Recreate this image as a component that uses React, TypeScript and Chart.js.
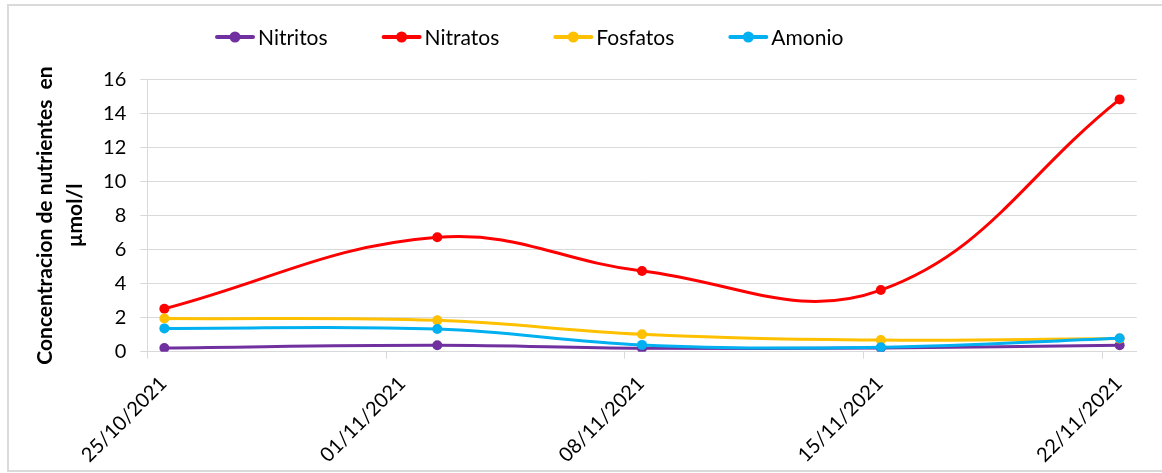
import React, { useEffect, useRef } from 'react';
import { Chart, registerables } from 'chart.js';

Chart.register(...registerables);

// ---- Data ----
const sampleDates = ['25/10/2021', '02/11/2021', '08/11/2021', '15/11/2021', '22/11/2021'];
const tickDates = ['25/10/2021', '01/11/2021', '08/11/2021', '15/11/2021', '22/11/2021'];
const seriesNames = ['Nitritos', 'Nitratos', 'Fosfatos', 'Amonio'];
const seriesColors = ['#7030A0', '#FF0000', '#FFC000', '#00B0F0'];
const nitritos = [0.22, 0.38, 0.2, 0.22, 0.38];
const nitratos = [2.52, 6.72, 4.74, 3.62, 14.82];
const fosfatos = [1.95, 1.84, 1.02, 0.68, 0.77];
const amonio = [1.37, 1.33, 0.4, 0.26, 0.79];
const yTitle = ['Concentracion de nutrientes  en', 'µmol/l'];
const yMin = 0;
const yMax = 16;
const yStep = 2;

// ---- Helpers ----
const DAY = 86400000;
function parseDate(s: string): number {
  const [d, m, y] = s.split('/').map(Number);
  return Date.UTC(y, m - 1, d);
}
const baseTime = parseDate(tickDates[0]);
const dayIndex = (s: string) => Math.round((parseDate(s) - baseTime) / DAY);
function formatDay(day: number): string {
  const dt = new Date(baseTime + Math.round(day) * DAY);
  const dd = String(dt.getUTCDate()).padStart(2, '0');
  const mm = String(dt.getUTCMonth() + 1).padStart(2, '0');
  return `${dd}/${mm}/${dt.getUTCFullYear()}`;
}
// Excel date axis: each day is a slot, points sit in the middle of their day
const xValues = sampleDates.map((s) => dayIndex(s) + 0.5);
const tickValues = tickDates.map(dayIndex);
const xMin = 0;
const xMax = dayIndex(tickDates[tickDates.length - 1]) + 1;

const allSeries = [nitritos, nitratos, fosfatos, amonio];

const FONT = 'Lato, "Liberation Sans", sans-serif';
const GRID = '#d9d9d9';

const lineLegend = {
  id: 'lineLegend',
  afterDraw(chart: any) {
    const ctx = chart.ctx as CanvasRenderingContext2D;
    const y = 37;
    let x = 215;
    ctx.save();
    ctx.font = `21px ${FONT}`;
    ctx.textBaseline = 'middle';
    ctx.textAlign = 'left';
    chart.data.datasets.forEach((ds: any) => {
      ctx.strokeStyle = ds.borderColor;
      ctx.lineWidth = 4;
      ctx.lineCap = 'round';
      ctx.beginPath();
      ctx.moveTo(x + 2, y);
      ctx.lineTo(x + 38, y);
      ctx.stroke();
      ctx.fillStyle = ds.borderColor;
      ctx.beginPath();
      ctx.arc(x + 20, y, 5.5, 0, Math.PI * 2);
      ctx.fill();
      ctx.fillStyle = '#000';
      ctx.fillText(ds.label, x + 43, y + 1);
      x += 43 + ctx.measureText(ds.label).width + 54;
    });
    ctx.restore();
  },
};

export default function App() {
  const canvasRef = useRef<HTMLCanvasElement | null>(null);

  useEffect(() => {
    if (!canvasRef.current) return;
    Chart.defaults.font.family = FONT;
    const chart = new Chart(canvasRef.current, {
      type: 'line',
      data: {
        datasets: seriesNames.map((name, i) => ({
          label: name,
          data: allSeries[i].map((v, j) => ({ x: xValues[j], y: v })),
          borderColor: seriesColors[i],
          backgroundColor: seriesColors[i],
          pointBackgroundColor: seriesColors[i],
          pointBorderColor: seriesColors[i],
          pointRadius: 5,
          pointBorderWidth: 0,
          borderWidth: 3,
          tension: 0.4,
          fill: false,
          order: seriesNames.length - 1 - i,
        })),
      },
      options: {
        animation: false,
        responsive: false,
        maintainAspectRatio: false,
        layout: { padding: { top: 79.3, right: 25.3, bottom: 0, left: 0 } },
        plugins: {
          legend: { display: false },
          tooltip: { enabled: false },
        },
        scales: {
          x: {
            type: 'linear',
            min: xMin,
            max: xMax,
            afterBuildTicks: (axis: any) => {
              axis.ticks = tickValues.map((v) => ({ value: v }));
            },
            afterFit: (scale: any) => {
              scale.height = 473 - 351.7;
            },
            grid: {
              drawOnChartArea: false,
              drawTicks: true,
              tickLength: 7,
              color: GRID,
              lineWidth: 1,
            },
            border: { display: true, color: GRID, width: 1 },
            ticks: {
              autoSkip: false,
              minRotation: 45,
              maxRotation: 45,
              padding: 13,
              labelOffset: 16,
              color: '#000',
              font: { size: 20, family: FONT },
              callback: (v: any) => formatDay(Number(v)),
            },
          },
          y: {
            min: yMin,
            max: yMax,
            afterFit: (scale: any) => {
              scale.width = 147.3;
            },
            grid: {
              color: GRID,
              lineWidth: 1,
              drawTicks: true,
              tickLength: 7,
            },
            border: { display: true, color: GRID, width: 1 },
            ticks: {
              stepSize: yStep,
              padding: 14,
              color: '#000',
              font: { size: 20, family: FONT },
            },
            title: {
              display: true,
              text: yTitle,
              color: '#000',
              font: { size: 21, weight: 'bold', family: FONT, lineHeight: 1.45 },
              padding: { top: 30, bottom: 0 },
            },
          },
        },
      },
      plugins: [lineLegend],
    } as any);
    return () => chart.destroy();
  }, []);

  return (
    <div
      style={{
        position: 'fixed',
        left: 0,
        top: 0,
        width: 1162,
        height: 473,
        overflow: 'hidden',
        background: '#fff',
      }}
    >
      <canvas ref={canvasRef} width={1162} height={473} style={{ position: 'absolute', left: 0, top: 0, width: 1162, height: 473 }} />
      <div
        style={{
          position: 'absolute',
          left: 7,
          top: 4,
          width: 1200,
          height: 468,
          boxSizing: 'border-box',
          borderLeft: '2px solid #dadada',
          borderTop: '2px solid #dadada',
          borderBottom: '2px solid #dadada',
          pointerEvents: 'none',
        }}
      />
    </div>
  );
}
